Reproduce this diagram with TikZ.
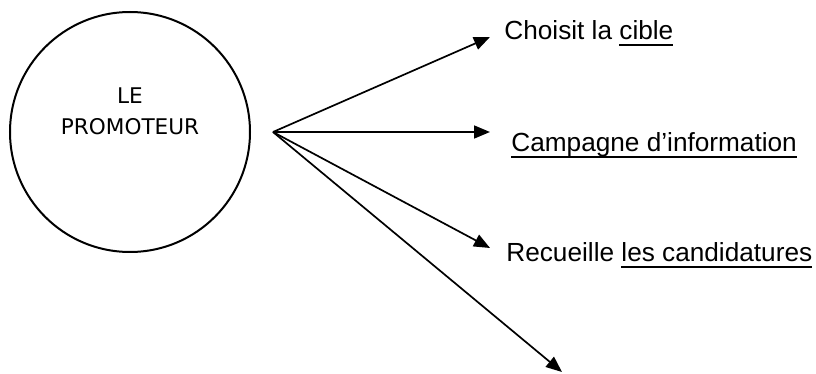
\documentclass[tikz,border=0pt]{standalone}
\usepackage{fontspec}
\setmainfont{Liberation Sans}
\newfontfamily\circfont{DejaVu Sans}
\usepackage{tikz}
\usetikzlibrary{arrows.meta}
\newcommand{\ulword}[1]{\setbox0\hbox{#1}\rlap{\rule[-3pt]{\wd0}{1pt}}\box0}

\begin{document}
\begin{tikzpicture}[
    x=0.5pt, y=-0.5pt,
    >={Triangle[length=8pt, width=6.5pt]},
    actor/.style={circle, draw=black, line width=1pt, minimum size=120pt, inner sep=0pt},
    actortext/.style={align=center, inner sep=0pt, font={\circfont\fontsize{10.8}{15.5}\selectfont}},
    task/.style={inner sep=0pt, anchor=base west, font={\fontsize{13.1}{16}\selectfont}},
    link/.style={->, line width=0.85pt}
]
\useasboundingbox (0,0) rectangle (816,374);

% ---- the promoter ----
\node[actor] (promoteur) at (130,132) {};
\node[actortext] (promolabel) at (130,111) {LE\\PROMOTEUR};

% ---- fan of arrows ----
\coordinate (hub) at (273,132);
\coordinate (tipcible) at (490,37);
\coordinate (tipcampagne) at (490,132);
\coordinate (tipcandid) at (490,248);
\coordinate (tipfree) at (562,372);

\draw[link] (hub) -- (tipcible);
\draw[link] (hub) -- (tipcampagne);
\draw[link] (hub) -- (tipcandid);
\draw[link] (hub) -- (tipfree);

% ---- tasks ----
\node[task] (cible) at (504,40) {Choisit la \ulword{cible}};
\node[task] (campagne) at (511,152) {\ulword{Campagne d’information}};
\node[task] (candidatures) at (506,262) {Recueille \ulword{les candidatures}};

\end{tikzpicture}
\end{document}
